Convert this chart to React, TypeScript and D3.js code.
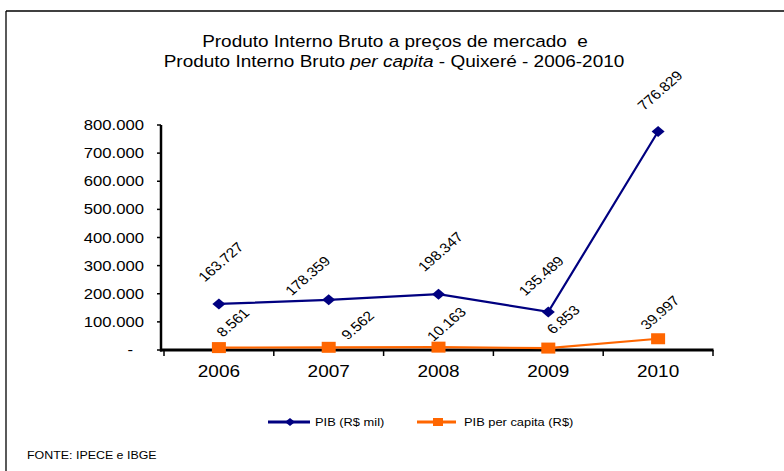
import React from "react";
import * as d3 from "d3";

const years = ["2006", "2007", "2008", "2009", "2010"];
const pib = [163727, 178359, 198347, 135489, 776829];
const pibPerCapita = [8561, 9562, 10163, 6853, 39997];
const yTicks = [0, 100000, 200000, 300000, 400000, 500000, 600000, 700000, 800000];
const seriesNames = ["PIB (R$ mil)", "PIB per capita (R$)"];
const titleLine1 = "Produto Interno Bruto a preços de mercado  e";
const titleLine2a = "Produto Interno Bruto ";
const titleLine2b = "per capita";
const titleLine2c = " - Quixeré - 2006-2010";
const sourceText = "FONTE: IPECE e IBGE";

// label placement offsets (layout only)
const pibLabelOffsets: [number, number][] = [[2, -42], [-21, -24], [2, -42.5], [-7, -36], [2, -41]];
const pcLabelOffsets: [number, number][] = [[14, -25], [29, -22], [8, -23], [15, -28.5], [2, -26]];

const W = 784;
const H = 471;
const SX = 1.15;
const FONT = "'Liberation Sans', Arial, sans-serif";
const BLUE = "#000080";
const ORANGE = "#FF6600";

const loc = d3.formatLocale({ decimal: ",", thousands: ".", grouping: [3], currency: ["R$", ""] });
const fmt = loc.format(",d");

function T(props: {
  x: number; y: number; size: number; anchor?: string; rotate?: number;
  baseline?: string; children: React.ReactNode; style?: React.CSSProperties;
}) {
  const { x, y, size, anchor = "start", rotate = 0, baseline, children, style } = props;
  return (
    <text
      transform={`translate(${x},${y}) scale(${SX},1) rotate(${rotate})`}
      textAnchor={anchor}
      dominantBaseline={baseline}
      fontSize={size}
      fontFamily={FONT}
      fill="#000"
      style={{ whiteSpace: "pre", ...style }}
    >
      {children}
    </text>
  );
}

export default function App() {
  const x = d3.scaleBand<string>().domain(years).range([164, 713]).padding(0);
  const y = d3.scaleLinear().domain([0, 800000]).range([350, 125]);
  const cx = (yr: string) => (x(yr) as number) + x.bandwidth() / 2;

  const line = d3
    .line<number>()
    .x((_, i) => cx(years[i]))
    .y((d) => y(d));

  const boundaries = [...years.map((yr) => x(yr) as number), 713];

  return (
    <svg width={W} height={H} style={{ position: "absolute", left: 0, top: 0, background: "#fff" }}>
      <rect x={0} y={0} width={W} height={H} fill="#fff" />
      {/* frame */}
      <line x1={6} y1={11} x2={W} y2={11} stroke="#000" strokeWidth={1.3} />
      <line x1={6} y1={11} x2={6} y2={H} stroke="#000" strokeWidth={1.3} />

      {/* title */}
      <T x={395} y={47} size={16.5} anchor="middle">{titleLine1}</T>
      <T x={394} y={67} size={16.5} anchor="middle">
        {titleLine2a}
        <tspan fontStyle="italic">{titleLine2b}</tspan>
        {titleLine2c}
      </T>

      {/* y axis */}
      <line x1={161} y1={y(800000)} x2={161} y2={351.5} stroke="#000" strokeWidth={2.5} />
      {yTicks.map((t) => (
        <g key={t}>
          <line x1={157} x2={161} y1={y(t)} y2={y(t)} stroke="#000" strokeWidth={1.5} />
          <T x={t === 0 ? 133 : 144} y={y(t) + 5} size={14.5} anchor="end">
            {t === 0 ? "-" : fmt(t)}
          </T>
        </g>
      ))}

      {/* x axis */}
      <line x1={160} y1={350} x2={713.5} y2={350} stroke="#000" strokeWidth={3} />
      {boundaries.map((b, i) => (
        <line key={i} x1={b} x2={b} y1={350} y2={356} stroke="#000" strokeWidth={1.5} />
      ))}
      {years.map((yr) => (
        <T key={yr} x={cx(yr)} y={377} size={16.5} anchor="middle">{yr}</T>
      ))}

      {/* PIB series */}
      <path d={line(pib) as string} fill="none" stroke={BLUE} strokeWidth={2.2} />
      {pib.map((v, i) => {
        const px = cx(years[i]);
        const py = y(v);
        return (
          <path key={i} d={`M${px - 6.5},${py} L${px},${py - 5.5} L${px + 6.5},${py} L${px},${py + 5.5} Z`} fill={BLUE} />
        );
      })}

      {/* PIB per capita series */}
      <path d={line(pibPerCapita) as string} fill="none" stroke={ORANGE} strokeWidth={2.2} />
      {pibPerCapita.map((v, i) => {
        const px = cx(years[i]);
        const py = y(v);
        return <rect key={i} x={px - 7} y={py - 5.5} width={14} height={11} fill={ORANGE} />;
      })}

      {/* data labels */}
      {pib.map((v, i) => (
        <T key={"l1" + i} x={cx(years[i]) + pibLabelOffsets[i][0]} y={y(v) + pibLabelOffsets[i][1]}
          size={13.5} anchor="middle" baseline="central" rotate={-45}>{fmt(v)}</T>
      ))}
      {pibPerCapita.map((v, i) => (
        <T key={"l2" + i} x={cx(years[i]) + pcLabelOffsets[i][0]} y={y(v) + pcLabelOffsets[i][1]}
          size={13.5} anchor="middle" baseline="central" rotate={-45}>{fmt(v)}</T>
      ))}

      {/* legend */}
      <line x1={268} x2={310} y1={422} y2={422} stroke={BLUE} strokeWidth={3} />
      <path d={`M${285},422 L${290},418 L${295},422 L${290},426 Z`} fill={BLUE} />
      <T x={315} y={426} size={11.2}>{seriesNames[0]}</T>
      <line x1={417} x2={456} y1={422} y2={422} stroke={ORANGE} strokeWidth={3} />
      <rect x={433} y={418} width={10} height={8} fill={ORANGE} />
      <T x={464} y={426} size={11.2}>{seriesNames[1]}</T>

      {/* source */}
      <T x={27} y={459} size={10.8}>{sourceText}</T>
    </svg>
  );
}
